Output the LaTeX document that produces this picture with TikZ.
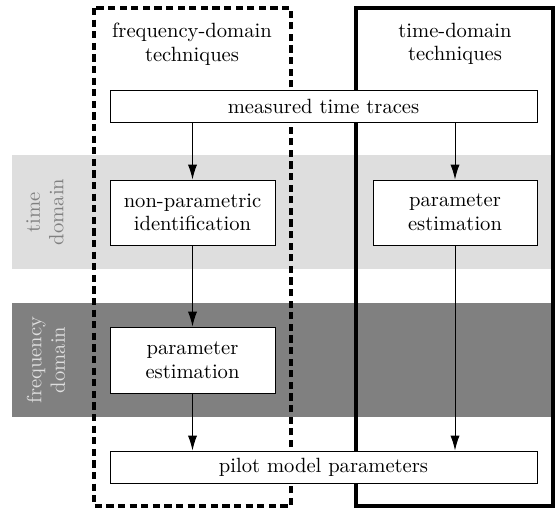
\documentclass[tikz,border=0pt]{standalone}
\usetikzlibrary{arrows.meta}
\definecolor{bandlight}{gray}{0.87}
\definecolor{banddark}{gray}{0.5}
\tikzset{
  box/.style={draw, line width=0.5pt, fill=white, align=center, inner sep=0pt},
  arr/.style={-{Latex[length=7.5pt,width=4.6pt]}, line width=0.5pt},
  grouptitle/.style={align=center},
  bandlabel/.style={rotate=90, align=center},
  frame/.style={line width=1.7pt},
}
\begin{document}
\begin{tikzpicture}[x=0.5pt,y=-0.5pt, font=\fontsize{10.3}{11.8}\selectfont]
\useasboundingbox (0,0) rectangle (555,508);
% bands
\fill[bandlight] (12,155) rectangle (555,269);
\fill[banddark] (12,303) rectangle (555,417);
\node[bandlabel, text=banddark] (td) at (45,212) {time\\domain};
\node[bandlabel, text=bandlight] (fd) at (46,360) {frequency\\domain};
% frames
\draw[frame, dash pattern=on 3.6pt off 2.2pt] (94,8) rectangle (291,506);
\draw[frame] (356,8) rectangle (553,506);
% titles
\node[grouptitle] (ft) at (192,44) {frequency-domain\\techniques};
\node[grouptitle] (tt) at (455,44) {time-domain\\techniques};
% boxes
\node[box, minimum width=213.5pt, minimum height=16pt] (meas) at (323.5,106) {measured time traces};
\node[box, minimum width=82.5pt, minimum height=32.5pt] (np) at (192.5,212.5) {non-parametric\\identification};
\node[box, minimum width=82pt, minimum height=32.5pt] (pr) at (455,212.5) {parameter\\estimation};
\node[box, minimum width=82.5pt, minimum height=33pt] (pl) at (192.5,360) {parameter\\estimation};
\node[box, minimum width=213.5pt, minimum height=16pt] (pilot) at (323.5,467) {pilot model parameters};
% arrows
\draw[arr] (meas.south -| np.north) -- (np.north);
\draw[arr] (meas.south -| pr.north) -- (pr.north);
\draw[arr] (np.south) -- (pl.north);
\draw[arr] (pl.south) -- (pl.south |- pilot.north);
\draw[arr] (pr.south) -- (pr.south |- pilot.north);
\end{tikzpicture}
\end{document}
